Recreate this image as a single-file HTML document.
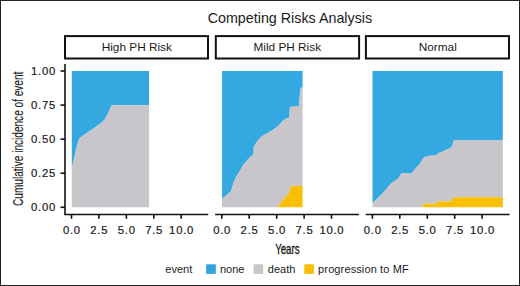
<!DOCTYPE html>
<html>
<head>
<meta charset="utf-8">
<style>
html,body{margin:0;padding:0;background:#fff;}
body{width:520px;height:286px;overflow:hidden;}
svg{display:block;}
text{font-family:"Liberation Sans",sans-serif;fill:#1a1a1a;}
.ax{font-size:11.3px;letter-spacing:0.75px;stroke:#1a1a1a;stroke-width:0.2px;}
.lg{font-size:11px;}
</style>
</head>
<body>
<svg width="520" height="286" viewBox="0 0 520 286">
<rect x="0" y="0" width="520" height="286" fill="#fff"/>
<!-- title -->
<text x="289.9" y="22.9" font-size="14.3" text-anchor="middle">Competing Risks Analysis</text>

<!-- strips -->
<g fill="none" stroke="#111" stroke-width="2">
<rect x="65" y="36.1" width="143" height="22.4"/>
<rect x="215.8" y="36.1" width="143.3" height="22.4"/>
<rect x="365.9" y="36.1" width="143.1" height="22.4"/>
</g>
<g font-size="11.8" text-anchor="middle">
<text x="136.8" y="51.3">High PH Risk</text>
<text x="287.3" y="51.3">Mild PH Risk</text>
<text x="437.8" y="51.3">Normal</text>
</g>

<!-- Panel 1 -->
<polygon fill="#34a8e0" points="71.8,71 149,71 149,105.2 111.8,105.2 109.8,109.6 107.3,114.7 104.9,119.3 101.9,122.4 82,136.5 80.6,137.3 79.3,138.8 78,142.3 76,150 74,158.5 71.8,168.8"/>
<polygon fill="#c8c6cb" points="71.8,168.8 74,158.5 76,150 78,142.3 79.3,138.8 80.6,137.3 82,136.5 101.9,122.4 104.9,119.3 107.3,114.7 109.8,109.6 111.8,105.2 149,105.2 149,207.3 71.8,207.3"/>

<!-- Panel 2 -->
<polygon fill="#34a8e0" points="222.1,71 302.6,71 302.6,87.4 301.5,87.6 300.3,88.6 299,105.9 289.9,106.9 289.4,118 285.6,118.7 282.8,121 280,124.3 276.1,127.7 268.3,132.7 261.6,136.6 256,142.8 255.6,143.9 253.7,146.7 253.7,154.5 252.8,155.1 250.6,156.8 247.8,159.6 242.7,165.8 240.4,170.2 236.7,176.1 233.7,182 232.3,187.1 230.8,191.6 226.4,195.2 222.1,198.9"/>
<polygon fill="#c8c6cb" points="222.1,198.9 226.4,195.2 230.8,191.6 232.3,187.1 233.7,182 236.7,176.1 240.4,170.2 242.7,165.8 247.8,159.6 250.6,156.8 252.8,155.1 253.7,154.5 253.7,146.7 255.6,143.9 256,142.8 261.6,136.6 268.3,132.7 276.1,127.7 280,124.3 282.8,121 285.6,118.7 289.4,118 289.9,106.9 299,105.9 300.3,88.6 301.5,87.6 302.6,87.4 302.6,186 290.9,186 289.2,192.8 286.7,195.7 277.2,207.3 222.1,207.3"/>
<polygon fill="#f8c000" points="277.2,207.3 286.7,195.7 289.2,192.8 290.9,186 302.6,186 302.6,207.3"/>

<!-- Panel 3 -->
<polygon fill="#34a8e0" points="372.5,71 502.8,71 502.8,140 454.9,140 453.3,141.3 452.3,146.5 449.1,148.6 443.3,151.2 438.1,153.3 436.5,155.2 427.1,155.9 424.6,157.3 422.7,159.3 421.2,161.8 419.2,164.7 416.8,167.1 414.8,169.6 412.9,171.5 411.5,173.4 401.1,173.6 399.6,176.8 396.7,179.8 392.7,182.2 390.8,183.7 387.3,188.1 383.9,192 380,195.8 376.3,199.4 372.5,203.6"/>
<polygon fill="#c8c6cb" points="372.5,203.6 376.3,199.4 380,195.8 383.9,192 387.3,188.1 390.8,183.7 392.7,182.2 396.7,179.8 399.6,176.8 401.1,173.6 411.5,173.4 412.9,171.5 414.8,169.6 416.8,167.1 419.2,164.7 421.2,161.8 422.7,159.3 424.6,157.3 427.1,155.9 436.5,155.2 438.1,153.3 443.3,151.2 449.1,148.6 452.3,146.5 453.3,141.3 454.9,140 502.8,140 502.8,197.2 453.5,197.2 450.6,201.4 438,201.4 435.2,203.8 424,203.8 421.7,207.3 372.5,207.3"/>
<polygon fill="#f8c000" points="421.7,207.3 424,203.8 435.2,203.8 438,201.4 450.6,201.4 453.5,197.2 502.8,197.2 502.8,207.3"/>

<!-- axes -->
<g stroke="#111" stroke-width="1.6" fill="none">
<line x1="65" y1="64" x2="65" y2="214.45"/>
<line x1="64.2" y1="214.45" x2="208.2" y2="214.45"/>
<line x1="215.1" y1="214.45" x2="358.9" y2="214.45"/>
<line x1="365.8" y1="214.45" x2="509.6" y2="214.45"/>
<!-- y ticks -->
<line x1="60.5" y1="71.0" x2="65" y2="71.0"/>
<line x1="60.5" y1="105.1" x2="65" y2="105.1"/>
<line x1="60.5" y1="139.15" x2="65" y2="139.15"/>
<line x1="60.5" y1="173.2" x2="65" y2="173.2"/>
<line x1="60.5" y1="207.3" x2="65" y2="207.3"/>
</g>
<g stroke="#111" stroke-width="1.6" id="xt">
<line x1="71.5" y1="214.45" x2="71.5" y2="218.8"/>
<line x1="98.9" y1="214.45" x2="98.9" y2="218.8"/>
<line x1="126.4" y1="214.45" x2="126.4" y2="218.8"/>
<line x1="153.8" y1="214.45" x2="153.8" y2="218.8"/>
<line x1="181.2" y1="214.45" x2="181.2" y2="218.8"/>
<line x1="221.8" y1="214.45" x2="221.8" y2="218.8"/>
<line x1="249.2" y1="214.45" x2="249.2" y2="218.8"/>
<line x1="276.7" y1="214.45" x2="276.7" y2="218.8"/>
<line x1="304.1" y1="214.45" x2="304.1" y2="218.8"/>
<line x1="331.5" y1="214.45" x2="331.5" y2="218.8"/>
<line x1="372.4" y1="214.45" x2="372.4" y2="218.8"/>
<line x1="399.8" y1="214.45" x2="399.8" y2="218.8"/>
<line x1="427.3" y1="214.45" x2="427.3" y2="218.8"/>
<line x1="454.7" y1="214.45" x2="454.7" y2="218.8"/>
<line x1="482.1" y1="214.45" x2="482.1" y2="218.8"/>
</g>

<!-- y labels -->
<g class="ax" text-anchor="end">
<text x="56" y="74.6">1.00</text>
<text x="56" y="108.7">0.75</text>
<text x="56" y="142.75">0.50</text>
<text x="56" y="176.8">0.25</text>
<text x="56" y="210.9">0.00</text>
</g>
<!-- x labels -->
<g class="ax" text-anchor="middle">
<text x="71.9" y="234.1">0.0</text>
<text x="99.3" y="234.1">2.5</text>
<text x="126.8" y="234.1">5.0</text>
<text x="154.2" y="234.1">7.5</text>
<text x="181.6" y="234.1">10.0</text>
<text x="222.2" y="234.1">0.0</text>
<text x="249.6" y="234.1">2.5</text>
<text x="277.1" y="234.1">5.0</text>
<text x="304.5" y="234.1">7.5</text>
<text x="331.9" y="234.1">10.0</text>
<text x="372.8" y="234.1">0.0</text>
<text x="400.2" y="234.1">2.5</text>
<text x="427.7" y="234.1">5.0</text>
<text x="455.1" y="234.1">7.5</text>
<text x="482.5" y="234.1">10.0</text>
</g>

<!-- axis titles -->
<text transform="translate(22.7,138.8) rotate(-90)" x="0" y="0" font-size="14" text-anchor="middle" textLength="134.3" lengthAdjust="spacingAndGlyphs" stroke="#1a1a1a" stroke-width="0.1">Cumulative incidence of event</text>
<text x="287.35" y="254.3" font-size="14.2" text-anchor="middle" textLength="24.3" lengthAdjust="spacingAndGlyphs" stroke="#1a1a1a" stroke-width="0.35">Years</text>

<!-- legend -->
<g class="lg">
<text x="165.3" y="272.8">event</text>
<rect x="206.2" y="264.3" width="9.6" height="9.6" fill="#2ea4dc"/>
<text x="219.9" y="272.8">none</text>
<rect x="253.6" y="264.3" width="9.5" height="9.6" fill="#c6c6c6"/>
<text x="267.8" y="272.8">death</text>
<rect x="304.3" y="264.3" width="9.6" height="9.6" fill="#f8c000"/>
<text x="318.1" y="272.8" textLength="90.6" lengthAdjust="spacing">progression to MF</text>
</g>

<!-- outer border -->
<rect x="0.5" y="0.5" width="519" height="285" fill="none" stroke="#222" stroke-width="1"/>
</svg>
</body>
</html>
